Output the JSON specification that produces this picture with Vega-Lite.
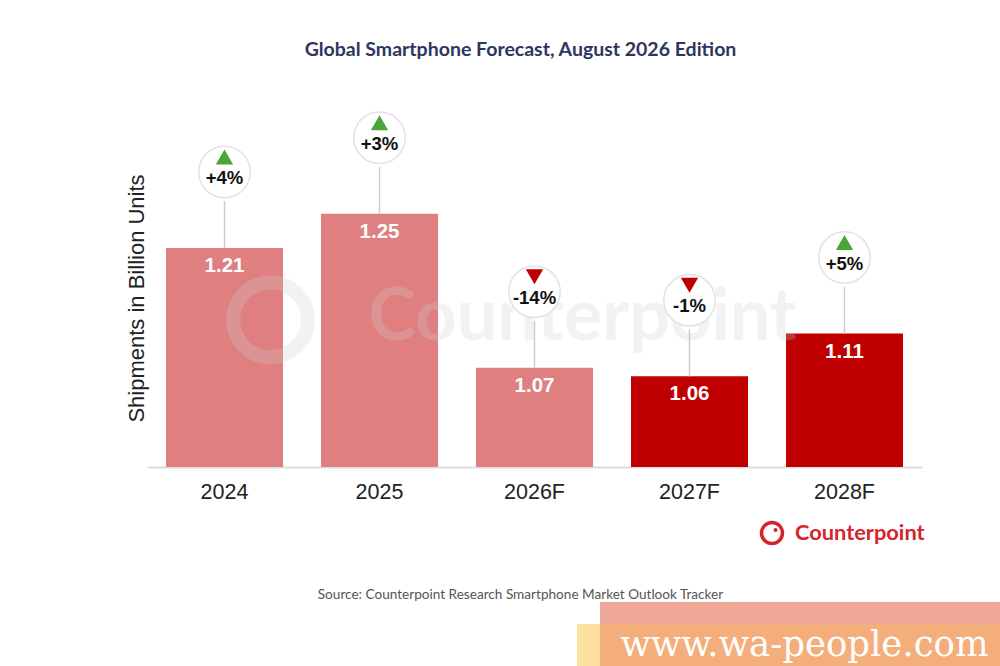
{
  "$schema": "https://vega.github.io/schema/vega-lite/v6.json",
  "width": 775,
  "height": 367,
  "autosize": {"type": "none"},
  "padding": {"left": 147, "top": 100, "right": 78, "bottom": 199},
  "background": "white",
  "config": {"view": {"stroke": null}},
  "title": {
    "text": "Global Smartphone Forecast, August 2026 Edition",
    "font": "Lato",
    "fontSize": 19.5,
    "fontWeight": "bold",
    "color": "#2e3560",
    "anchor": "middle",
    "dx": -14,
    "offset": 40
  },
  "data": {
    "values": [
      {"year": "2024", "value": 1.21, "change": 4, "label": "+4%"},
      {"year": "2025", "value": 1.25, "change": 3, "label": "+3%"},
      {"year": "2026F", "value": 1.07, "change": -14, "label": "-14%"},
      {"year": "2027F", "value": 1.06, "change": -1, "label": "-1%"},
      {"year": "2028F", "value": 1.11, "change": 5, "label": "+5%"}
    ]
  },
  "encoding": {
    "x": {
      "field": "year",
      "type": "nominal",
      "sort": null,
      "scale": {"paddingInner": 0.245, "paddingOuter": 0.1225},
      "axis": {
        "title": "Source: Counterpoint Research Smartphone Market Outlook Tracker",
        "titleFont": "Lato",
        "titleFontSize": 13.6,
        "titleFontWeight": "normal",
        "titleColor": "#555555",
        "titleX": 373,
        "titleY": 127,
        "titleBaseline": "middle",
        "labelAngle": 0,
        "labelFont": "Liberation Sans",
        "labelFontSize": 21.5,
        "labelColor": "#222222",
        "labelPadding": 14,
        "ticks": false,
        "domainColor": "#dddddd",
        "domainWidth": 2,
        "grid": false
      }
    }
  },
  "layer": [
    {
      "mark": {"type": "bar"},
      "encoding": {
        "y": {
          "field": "value",
          "type": "quantitative",
          "scale": {"domain": [0.954, 1.383], "zero": false, "nice": false},
          "axis": {
            "title": "Shipments in Billion Units",
            "titleFont": "Liberation Sans",
            "titleFontSize": 22,
            "titleFontWeight": "normal",
            "titleColor": "#222222",
            "titleAngle": 270,
            "titleX": -11,
            "titleY": 198,
            "titleBaseline": "middle",
            "labels": false,
            "ticks": false,
            "domain": false,
            "grid": false
          }
        },
        "y2": {"datum": 0.954},
        "color": {
          "condition": {"test": "indexof(['2027F','2028F'], datum.year) >= 0", "value": "#c00000"},
          "value": "#e07f80"
        }
      }
    },
    {
      "mark": {"type": "rule", "color": "#cccccc", "strokeWidth": 1.5, "y2Offset": -47},
      "encoding": {
        "y": {"field": "value", "type": "quantitative"},
        "y2": {"field": "value"}
      }
    },
    {
      "data": {"values": [{"t": "Counterpoint"}]},
      "mark": {"type": "text", "font": "Lato", "fontSize": 72, "fontWeight": "bold", "color": "#cfcfcf", "opacity": 0.25, "baseline": "middle", "dx": 48},
      "encoding": {
        "x": {"datum": "2026F"},
        "y": {"datum": 1.128},
        "text": {"field": "t"}
      }
    },
    {
      "data": {"values": [{"t": "ring"}]},
      "mark": {"type": "point", "shape": "circle", "size": 5600, "filled": false, "stroke": "#cfcfcf", "strokeWidth": 14, "opacity": 0.25, "xOffset": 46},
      "encoding": {
        "x": {"datum": "2024"},
        "y": {"datum": 1.126}
      }
    },
    {
      "mark": {"type": "point", "shape": "circle", "size": 2650, "filled": true, "fill": "white", "stroke": "#e2e2e2", "strokeWidth": 1.5, "opacity": 1, "yOffset": -76},
      "encoding": {
        "y": {"field": "value", "type": "quantitative"}
      }
    },
    {
      "mark": {"type": "point", "filled": true, "size": 300, "opacity": 1, "yOffset": -91},
      "encoding": {
        "y": {"field": "value", "type": "quantitative"},
        "shape": {"condition": {"test": "datum.change > 0", "value": "triangle-up"}, "value": "triangle-down"},
        "color": {"condition": {"test": "datum.change > 0", "value": "#4aa53a"}, "value": "#c00000"}
      }
    },
    {
      "mark": {"type": "text", "font": "Liberation Sans", "fontSize": 18.5, "fontWeight": "bold", "color": "#111111", "baseline": "middle", "dy": -70},
      "encoding": {
        "y": {"field": "value", "type": "quantitative"},
        "text": {"field": "label"}
      }
    },
    {
      "mark": {"type": "text", "font": "Liberation Sans", "fontSize": 20.5, "fontWeight": "bold", "color": "white", "baseline": "middle", "dy": 18},
      "encoding": {
        "y": {"field": "value", "type": "quantitative"},
        "text": {"field": "value", "format": ".2f"}
      }
    },
    {
      "data": {"values": [{"t": "Counterpoint"}]},
      "mark": {"type": "text", "font": "Lato", "fontSize": 21.8, "fontWeight": "bold", "color": "#d6242c", "align": "left", "baseline": "middle", "dx": -49.5},
      "encoding": {
        "x": {"datum": "2028F"},
        "y": {"datum": 0.8768},
        "text": {"field": "t"}
      }
    },
    {
      "data": {"values": [{"t": "ring"}]},
      "mark": {"type": "point", "shape": "circle", "size": 440, "filled": false, "stroke": "#d6242c", "strokeWidth": 3.5, "opacity": 1, "xOffset": -72.5},
      "encoding": {
        "x": {"datum": "2028F"},
        "y": {"datum": 0.8768}
      }
    },
    {
      "data": {"values": [{"t": "dot"}]},
      "mark": {"type": "point", "shape": "circle", "size": 16, "filled": true, "color": "#d6242c", "opacity": 1, "xOffset": -69, "yOffset": -3},
      "encoding": {
        "x": {"datum": "2028F"},
        "y": {"datum": 0.8768}
      }
    },
    {
      "data": {"values": [{"t": "box"}]},
      "mark": {"type": "bar", "color": "#fbe0a0", "width": 423, "xOffset": -56},
      "encoding": {
        "x": {"datum": "2028F"},
        "y": {"datum": 0.7704},
        "y2": {"datum": 0.70}
      }
    },
    {
      "data": {"values": [{"t": "box"}]},
      "mark": {"type": "bar", "color": "#f3ae7c", "width": 400, "xOffset": -44.5},
      "encoding": {
        "x": {"datum": "2028F"},
        "y": {"datum": 0.7704},
        "y2": {"datum": 0.70}
      }
    },
    {
      "data": {"values": [{"t": "box"}]},
      "mark": {"type": "bar", "color": "#f0a898", "width": 400, "xOffset": -44.5},
      "encoding": {
        "x": {"datum": "2028F"},
        "y": {"datum": 0.7961},
        "y2": {"datum": 0.7704}
      }
    },
    {
      "data": {"values": [{"t": "www.wa-people.com"}]},
      "mark": {"type": "text", "font": "DejaVu Serif", "fontSize": 35.5, "color": "white", "baseline": "middle", "dx": -40},
      "encoding": {
        "x": {"datum": "2028F"},
        "y": {"datum": 0.7458},
        "text": {"field": "t"}
      }
    }
  ]
}
